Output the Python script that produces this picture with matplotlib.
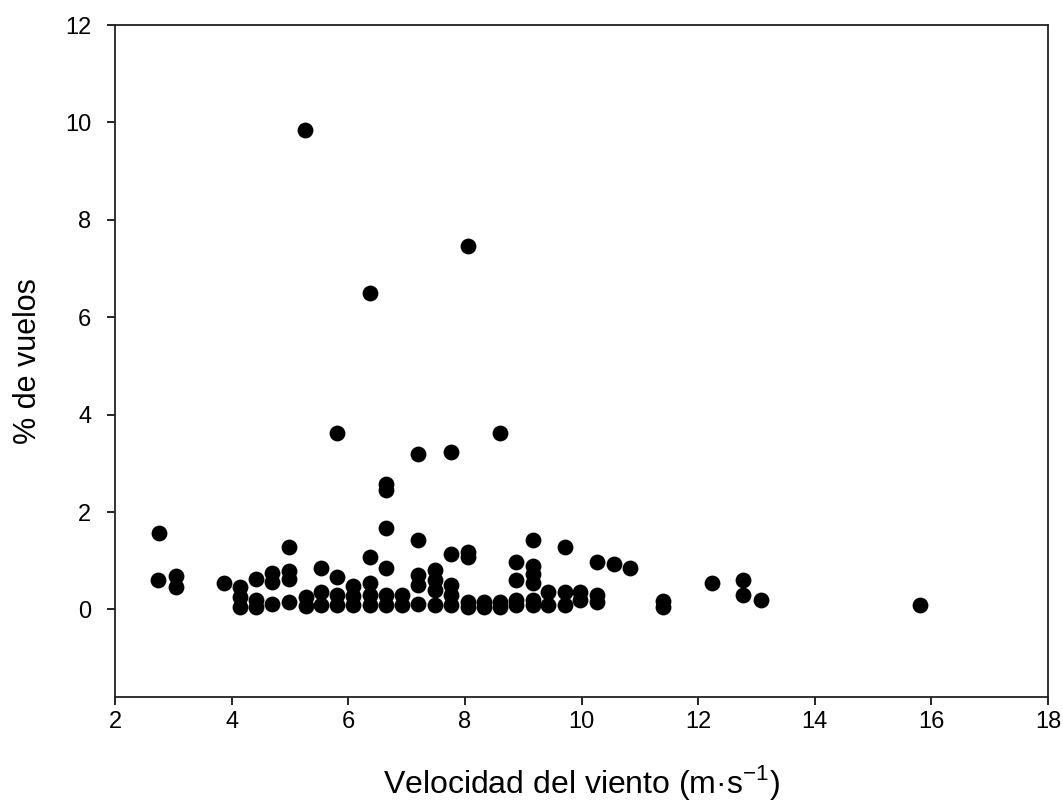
import matplotlib
matplotlib.use("Agg")
import matplotlib.pyplot as plt

plt.rcParams["font.family"] = ["Liberation Sans", "DejaVu Sans"]
plt.rcParams["mathtext.fontset"] = "custom"
plt.rcParams["mathtext.rm"] = "Liberation Sans"

# Wind speed (m/s) and share of flights (%) per observation
wind_speed = [
    2.76, 2.74, 3.05, 3.05, 3.87,
    4.15, 4.15, 4.15,
    4.42, 4.42, 4.42,
    4.70, 4.70, 4.70,
    4.99, 4.99, 4.99, 4.99,
    5.27, 5.27,
    5.54, 5.54, 5.54,
    5.81, 5.81, 5.81,
    6.08, 6.08, 6.08,
    6.37, 6.37, 6.37, 6.37,
    6.64, 6.64, 6.64, 6.64,
    6.92, 6.92,
    7.20, 7.20, 7.20, 7.20,
    7.48, 7.48, 7.48, 7.48,
    7.76, 7.76, 7.76, 7.76,
    8.05, 8.05, 8.05, 8.05,
    8.32, 8.32,
    8.60, 8.60,
    8.88, 8.88, 8.88, 8.88,
    9.16, 9.16, 9.16, 9.16, 9.16, 9.16,
    9.43, 9.43,
    9.71, 9.71, 9.71,
    9.98, 9.98,
    10.27, 10.27, 10.27,
    10.55, 10.83,
    11.40, 11.40,
    12.24, 12.77, 12.77, 13.07, 15.81,
    5.26, 8.05, 6.37, 5.81, 7.20, 7.77, 8.60, 6.65, 6.65,
]
flight_pct = [
    1.57, 0.60, 0.68, 0.45, 0.54,
    0.45, 0.25, 0.05,
    0.62, 0.20, 0.05,
    0.74, 0.56, 0.12,
    1.28, 0.78, 0.62, 0.16,
    0.25, 0.07,
    0.84, 0.35, 0.08,
    0.66, 0.30, 0.08,
    0.48, 0.28, 0.08,
    1.07, 0.55, 0.30, 0.08,
    1.67, 0.84, 0.30, 0.10,
    0.30, 0.08,
    1.42, 0.70, 0.50, 0.12,
    0.80, 0.60, 0.40, 0.08,
    1.14, 0.50, 0.30, 0.08,
    1.18, 1.08, 0.15, 0.05,
    0.15, 0.05,
    0.15, 0.05,
    0.97, 0.60, 0.20, 0.08,
    1.42, 0.90, 0.72, 0.54, 0.20, 0.08,
    0.35, 0.10,
    1.28, 0.35, 0.10,
    0.35, 0.20,
    0.97, 0.30, 0.15,
    0.93, 0.84,
    0.18, 0.05,
    0.54, 0.60, 0.29, 0.20, 0.10,
    9.85, 7.46, 6.49, 3.63, 3.20, 3.24, 3.63, 2.58, 2.45,
]

x_ticks = [2, 4, 6, 8, 10, 12, 14, 16, 18]
y_ticks = [0, 2, 4, 6, 8, 10, 12]

fig = plt.figure(figsize=(10.63, 8.09), dpi=100)
ax = fig.add_axes([0.1082, 0.1384, 0.8777, 0.8306])

ax.scatter(wind_speed, flight_pct, s=130, c="black", marker="o", linewidths=0, zorder=3)

ax.set_xlim(2, 18)
ax.set_ylim(-1.8, 12)
ax.set_xticks(x_ticks)
ax.set_yticks(y_ticks)
ax.tick_params(direction="out", length=6, width=1.2, labelsize=17)
ax.tick_params(axis="x", pad=4)
ax.tick_params(axis="y", pad=11)
for side in ax.spines.values():
    side.set_linewidth(1.3)
    side.set_color("#222222")

ax.set_xlabel("Velocidad del viento (m·s$^{-1}$)", fontsize=23, labelpad=22)
ax.set_ylabel("% de vuelos", fontsize=22, labelpad=16)

fig.savefig("out.png", dpi=100)
